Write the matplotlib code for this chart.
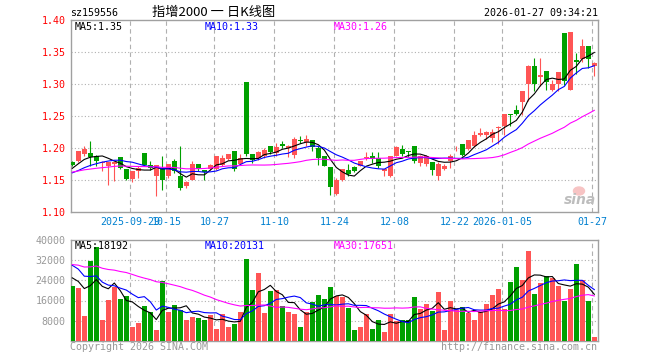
import matplotlib
matplotlib.use('Agg')
import matplotlib.pyplot as plt
from matplotlib.patches import Ellipse
import numpy as np
import pandas as pd

# ---- data (daily candles, 88 sessions) ----
opens = [1.1775, 1.1791, 1.1911, 1.1922, 1.188, 1.1765, 1.1712, 1.1754, 1.1854, 1.1671,
         1.1519, 1.1634, 1.1922, 1.1738, 1.1566, 1.1686, 1.1566, 1.1801, 1.1566, 1.1399,
         1.1503, 1.1754, 1.165, 1.1671, 1.1671, 1.1738, 1.1827, 1.1958, 1.1754, 1.3036,
         1.1911, 1.1843, 1.188, 1.2037, 1.1922, 1.2068, 1.2, 1.1895, 1.2131, 1.2089,
         1.2131, 1.2, 1.188, 1.1702, 1.1283, 1.1503, 1.166, 1.1697, 1.1723, 1.1843,
         1.188, 1.1843, 1.1634, 1.1555, 1.188, 1.199, 1.1958, 1.2037, 1.1765, 1.1754,
         1.1775, 1.1555, 1.1671, 1.1792, 1.1964, 1.2068, 1.199, 1.2026, 1.2208, 1.2208,
         1.2156, 1.2313, 1.2339, 1.2536, 1.2599, 1.2714, 1.3005, 1.3286, 1.311, 1.3208,
         1.2911, 1.3005, 1.3807, 1.2911, 1.338, 1.339, 1.3599, 1.3286]
highs = [1.1801, 1.1958, 1.2037, 1.2115, 1.1895, 1.1791, 1.1775, 1.178, 1.1854, 1.1671,
         1.1634, 1.1712, 1.1922, 1.1791, 1.1738, 1.188, 1.1754, 1.1827, 1.2026, 1.1477,
         1.1801, 1.1754, 1.166, 1.1754, 1.188, 1.1895, 1.1906, 1.1958, 1.1911, 1.3036,
         1.1911, 1.1958, 1.2, 1.2037, 1.2078, 1.2115, 1.2052, 1.2167, 1.2183, 1.2209,
         1.2131, 1.2026, 1.188, 1.1702, 1.1529, 1.1671, 1.1749, 1.1723, 1.1801, 1.1932,
         1.1937, 1.1932, 1.1671, 1.188, 1.2026, 1.2042, 1.1958, 1.2037, 1.1895, 1.1895,
         1.1775, 1.1775, 1.1754, 1.1906, 1.2036, 1.2068, 1.212, 1.226, 1.2313, 1.2271,
         1.2297, 1.2339, 1.2536, 1.2536, 1.2677, 1.2896, 1.3302, 1.3406, 1.3406, 1.3208,
         1.3068, 1.3182, 1.3807, 1.3823, 1.3495, 1.3703, 1.3599, 1.3354]
lows = [1.1712, 1.178, 1.1869, 1.1723, 1.1712, 1.1634, 1.1414, 1.1477, 1.1671, 1.1493,
        1.1461, 1.1524, 1.1712, 1.166, 1.1242, 1.1346, 1.1529, 1.1608, 1.1336, 1.1372,
        1.1493, 1.1634, 1.1493, 1.166, 1.166, 1.1712, 1.1817, 1.1634, 1.1738, 1.188,
        1.1765, 1.1817, 1.1843, 1.1911, 1.188, 1.2, 1.1859, 1.1843, 1.2078, 1.2026,
        1.1948, 1.1738, 1.1712, 1.1257, 1.1268, 1.1477, 1.1566, 1.1629, 1.1712, 1.1806,
        1.1765, 1.1686, 1.1555, 1.1545, 1.1869, 1.188, 1.1854, 1.1765, 1.1712, 1.1712,
        1.1582, 1.1493, 1.166, 1.1688, 1.1948, 1.187, 1.1974, 1.2016, 1.2182, 1.2141,
        1.2089, 1.2063, 1.2208, 1.2349, 1.2521, 1.2521, 1.2729, 1.2885, 1.2964, 1.2911,
        1.2885, 1.2885, 1.299, 1.2901, 1.3161, 1.3354, 1.325, 1.312]
closes = [1.1738, 1.1958, 1.199, 1.1854, 1.1791, 1.1775, 1.1775, 1.1775, 1.1686, 1.1519,
          1.1634, 1.1686, 1.1738, 1.1686, 1.1738, 1.1493, 1.1754, 1.1634, 1.1367, 1.1461,
          1.1754, 1.1676, 1.1629, 1.1738, 1.1869, 1.1843, 1.1906, 1.1671, 1.1843, 1.1911,
          1.1817, 1.1932, 1.1974, 1.1932, 1.2016, 1.2037, 1.2026, 1.2141, 1.2105, 1.2146,
          1.2016, 1.1843, 1.1723, 1.1383, 1.1503, 1.1671, 1.1592, 1.1644, 1.1801, 1.1859,
          1.1827, 1.1723, 1.1671, 1.188, 1.201, 1.1911, 1.1932, 1.1791, 1.1869, 1.1869,
          1.166, 1.1754, 1.1723, 1.188, 1.1974, 1.1896, 1.212, 1.2208, 1.2234, 1.225,
          1.225, 1.2323, 1.2536, 1.251, 1.2536, 1.2896, 1.3286, 1.3005, 1.3146, 1.3026,
          1.3005, 1.3182, 1.3042, 1.3823, 1.3339, 1.3599, 1.339, 1.3328]
volumes = [21722, 20927, 9801, 31788, 37351, 8212, 16159, 21324, 16556, 17748,
           5430, 7020, 13775, 11523, 4238, 23709, 11391, 14040, 12185, 8212,
           9404, 9007, 8212, 10199, 4636, 10596, 5430, 6490, 11391, 32450,
           20132, 26887, 10993, 19735, 20132, 13775, 11523, 10596, 5430, 11391,
           15364, 18146, 16556, 21324, 17748, 17351, 13113, 4238, 5430, 10596,
           4636, 8212, 3444, 10596, 7815, 8212, 8212, 17351, 12583, 14570,
           11788, 19338, 4238, 15762, 12185, 13377, 10993, 8212, 11391, 14570,
           18146, 20530, 12583, 23311, 29271, 24106, 35629, 18543, 22914, 25695,
           24901, 21722, 15762, 20530, 30464, 24106, 15762, 1457]

# sessions before the visible window (estimated, only feed the moving averages)
pre_close = [1.14, 1.145, 1.15, 1.143, 1.148, 1.15, 1.145, 1.147,
             1.165, 1.17, 1.175, 1.18, 1.178, 1.172, 1.176, 1.174, 1.17, 1.172, 1.175, 1.175,
             1.16, 1.155, 1.15, 1.152, 1.153,
             1.16, 1.165, 1.168, 1.173]
pre_vol = [28000, 32000, 30000, 27000, 35000, 31000, 29000, 33000, 30000, 28000,
           31000, 34000, 29000, 30000, 32000, 27000, 31000, 30000, 33000, 29000,
           36000, 38000, 33000, 35000, 33000,
           28000, 24000, 26000, 25300]

date_idx = [10, 16, 24, 34, 44, 54, 64, 72, 87]
date_labels = ['2025-09-29', '10-15', '10-27', '11-10', '11-24', '12-08', '12-22', '2026-01-05', '01-27']
price_ticks = [1.10, 1.15, 1.20, 1.25, 1.30, 1.35, 1.40]
vol_ticks = [8000, 16000, 24000, 32000, 40000]

ma_price_text = ['MA5:1.35', 'MA10:1.33', 'MA30:1.26']
ma_vol_text = ['MA5:18192', 'MA10:20131', 'MA30:17651']

# ---- moving averages ----
n = len(closes)
c_all = pd.Series(pre_close + closes)
v_all = pd.Series(pre_vol + volumes)
ma_p = {w: c_all.rolling(w).mean().values[-n:] for w in (5, 10, 30)}
ma_v = {w: v_all.rolling(w).mean().values[-n:] for w in (5, 10, 30)}

RED = '#ff5555'
GREEN = '#00a000'
FRAME = '#a0a0a0'
GRID = '#b0b0b0'
ma_colors = {5: 'black', 10: '#0000ff', 30: '#ff00ff'}
mono = 'DejaVu Sans Mono'
fs = 7.2

W, H = 660, 360
def fx(x):
    return x / W
def fy(y):
    return 1 - y / H

fig = plt.figure(figsize=(6.6, 3.6), dpi=100)
fig.patch.set_facecolor('white')

left, right = 70.5, 597.5
ax1 = fig.add_axes([fx(left), fy(211.7), (right - left) / W, (211.7 - 20.3) / H])
ax2 = fig.add_axes([fx(left), fy(340.7), (right - left) / W, (340.7 - 240.2) / H])

x = np.arange(n)
o = np.array(opens); c = np.array(closes); hi = np.array(highs); lo = np.array(lows)
up = c >= o
cols = np.where(up, RED, GREEN)
xmin, xmax = (left - 72.3) / 6, (right - 72.3) / 6

# ---- candles ----
ax1.vlines(x, lo, hi, colors=cols, linewidth=0.8, zorder=3)
body_b = np.minimum(o, c)
body_h = np.maximum(np.abs(c - o), 0.0006)
ax1.bar(x, body_h, bottom=body_b, width=0.78, color=cols, linewidth=0, zorder=4)
for w in (5, 10, 30):
    ax1.plot(x, ma_p[w], color=ma_colors[w], linewidth=0.8, zorder=5)

ax1.set_xlim(xmin, xmax)
ax1.set_ylim(1.10, 1.40)
ax1.set_yticks(price_ticks)
ax1.set_yticklabels(['%.2f' % t for t in price_ticks], color='red', fontsize=fs, family=mono)
grid_x = [i - 0.33 for i in date_idx]
ax1.set_xticks(grid_x)
ax1.set_xticklabels(date_labels, color='#0080d0', fontsize=fs, family=mono)
ax1.tick_params(length=0, pad=3.5)
ax1.tick_params(axis='x', pad=4)
for t in price_ticks[1:-1]:
    ax1.axhline(t, color=GRID, linestyle=(0, (1, 2)), linewidth=0.8, zorder=1)
for gx in grid_x:
    ax1.axvline(gx, color=GRID, linestyle=(0, (4, 3)), linewidth=0.8, zorder=1)

# ---- volume ----
ax2.bar(x, volumes, width=0.78, color=cols, linewidth=0, zorder=3)
for w in (5, 10, 30):
    ax2.plot(x, ma_v[w], color=ma_colors[w], linewidth=0.8, zorder=5)
ax2.set_xlim(xmin, xmax)
ax2.set_ylim(0, 40000)
ax2.set_yticks(vol_ticks)
ax2.set_yticklabels([str(t) for t in vol_ticks], color='#999999', fontsize=fs, family=mono)
ax2.set_xticks([])
ax2.tick_params(length=0, pad=3.5)
for t in vol_ticks[:-1]:
    ax2.axhline(t, color=GRID, linestyle=(0, (1, 2)), linewidth=0.8, zorder=1)
for gx in grid_x:
    ax2.axvline(gx, color=GRID, linestyle=(0, (4, 3)), linewidth=0.8, zorder=1)

for ax in (ax1, ax2):
    for s in ax.spines.values():
        s.set_color(FRAME)
        s.set_linewidth(1.0)

# ---- legends / header text ----
for txt, xp, col in zip(ma_price_text, [74.5, 204.5, 334], ['black', '#0000ff', '#ff00ff']):
    fig.text(fx(xp), fy(26.5), txt, color=col, fontsize=fs, family=mono, va='center', ha='left')
for txt, xp, col in zip(ma_vol_text, [74.5, 204.5, 334], ['black', '#0000ff', '#ff00ff']):
    fig.text(fx(xp), fy(246), txt, color=col, fontsize=fs, family=mono, va='center', ha='left')

fig.text(fx(70), fy(13), 'sz159556', color='black', fontsize=fs, family=mono, va='center')
fig.text(fx(152), fy(12.5), '指增2000 一 日K线图', color='black', fontsize=9.5,
         family=['Noto Sans CJK SC', 'DejaVu Sans'], va='center')
fig.text(fx(597.5), fy(13), '2026-01-27 09:34:21', color='black', fontsize=fs, family=mono,
         va='center', ha='right')
fig.text(fx(70), fy(346.5), 'Copyright 2026 SINA.COM', color='#999999', fontsize=fs, family=mono, va='center')
fig.text(fx(597.5), fy(346.5), 'http://finance.sina.com.cn', color='#999999', fontsize=fs, family=mono,
         va='center', ha='right')

# sina watermark
ax1.add_patch(Ellipse((fx(579), fy(191)), 11 / W, 8 / H, transform=fig.transFigure,
                      color='#f7c4c4', zorder=2))
fig.text(fx(580), fy(200), 'sina', color='#bdbdbd', fontsize=10, fontweight='bold',
         style='italic', family='DejaVu Sans', ha='center', va='center', zorder=2)

fig.savefig('out.png', dpi=100, facecolor='white')
